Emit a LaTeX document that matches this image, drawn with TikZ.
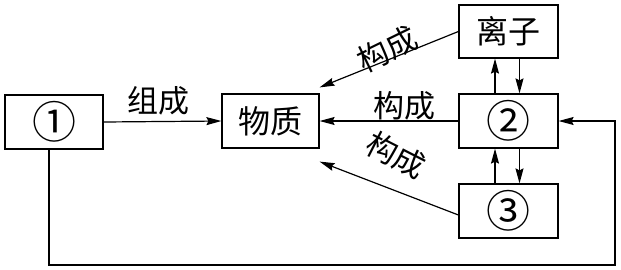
\documentclass[tikz,border=0pt]{standalone}
\usepackage{fontspec}
\newfontfamily\cjk{Noto Sans CJK SC}
\usetikzlibrary{arrows.meta}
\begin{document}
\begin{tikzpicture}[x=1pt,y=-1pt,
  box/.style={draw,line width=1.2pt,minimum width=98pt,minimum height=54pt,inner sep=0pt,font=\cjk\fontsize{32}{32}\selectfont},
  num/.style={font=\cjk\fontsize{44}{44}\selectfont},
  arr/.style={line width=1.2pt,-{Stealth[length=15pt,width=8pt,inset=2pt]}},
  lab/.style={font=\cjk\fontsize{31}{31}\selectfont,inner sep=0pt}]
\useasboundingbox (0,0) rectangle (621,269);
\node[box,num] (n1) at (54,122) {①};
\node[box,minimum width=97pt] (wz) at (270.5,121) {物质};
\node[box,minimum width=99pt,minimum height=53pt] (lz) at (508.5,31.5) {离子};
\node[box,num,minimum width=99pt] (n2) at (508.5,121) {②};
\node[box,num,minimum width=99pt] (n3) at (508.5,211) {③};
\draw[arr] (n1.east) -- (wz.west);
\node[lab] (l1) at (158,101) {组成};
\draw[arr] (n2.west) -- (wz.east);
\node[lab] (l2) at (404,106) {构成};
\draw[arr] (lz.west) -- ([yshift=6pt]wz.north east);
\node[lab,rotate=26] (l3) at (387,49) {构成};
\draw[arr] ([yshift=-4pt]n3.west) -- ([yshift=-13pt]wz.south east);
\node[lab,rotate=-27] (l4) at (396,155) {构成};
\draw[arr] ([xshift=-13.5pt]n2.north) -- ([xshift=-13.5pt]lz.south);
\draw[arr] ([xshift=11pt]lz.south) -- ([xshift=11pt]n2.north);
\draw[arr] ([xshift=-13.5pt]n3.north) -- ([xshift=-13.5pt]n2.south);
\draw[arr] ([xshift=11pt]n2.south) -- ([xshift=11pt]n3.north);
\coordinate (br) at (615,265);
\draw[arr] ([xshift=-5pt]n1.south) |- (br) |- (n2.east);
\end{tikzpicture}
\end{document}
